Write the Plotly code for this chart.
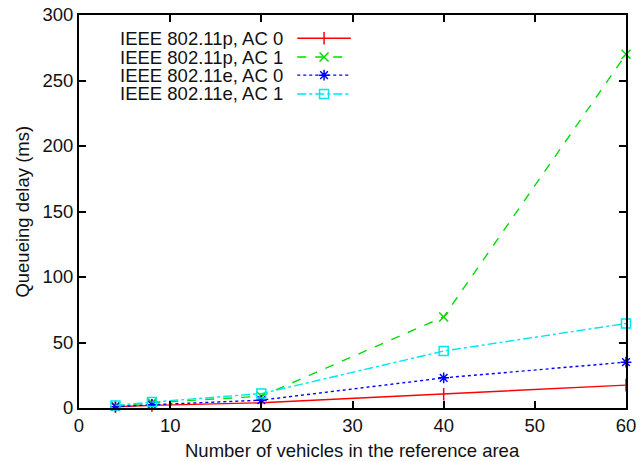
import plotly.graph_objects as go

vehicles = [4, 8, 20, 40, 60]
p_ac0 = [1.0, 2.0, 4.0, 10.5, 17.5]
p_ac1 = [1.5, 4.0, 9.0, 69.5, 270.0]
e_ac0 = [1.0, 2.5, 6.0, 23.0, 35.0]
e_ac1 = [2.0, 4.5, 11.0, 43.5, 64.5]
names = ["IEEE 802.11p, AC 0", "IEEE 802.11p, AC 1", "IEEE 802.11e, AC 0", "IEEE 802.11e, AC 1"]
series = [p_ac0, p_ac1, e_ac0, e_ac1]
colors = ["#ff0000", "#00dd00", "#0000ff", "#00e5ee"]
dashes = ["solid", "dash", "dot", "dashdot"]
symbols = ["line-ns", "x-thin", "asterisk", "square-open"]
x_ticks = [0, 10, 20, 30, 40, 50, 60]
y_ticks = [0, 50, 100, 150, 200, 250, 300]
x_title = "Number of vehicles in the reference area"
y_title = "Queueing delay (ms)"

FONT = "Liberation Sans, Arial, sans-serif"
FS = 18.5
fig = go.Figure()
for name, ys, c, d, s in zip(names, series, colors, dashes, symbols):
    fig.add_trace(go.Scatter(
        x=vehicles, y=ys, mode="lines+markers", name=name, showlegend=False,
        line=dict(color=c, width=1.4, dash=d),
        marker=dict(symbol=s, size=9, color=c, line=dict(color=c, width=1.5)),
        cliponaxis=False))

# manual legend (text left, sample right) on an overlay axis
leg_y = [0.941, 0.893, 0.847, 0.799]
for i, (name, c, d, s) in enumerate(zip(names, colors, dashes, symbols)):
    fig.add_trace(go.Scatter(
        x=[0.399, 0.497], y=[leg_y[i], leg_y[i]], mode="lines", xaxis="x2", yaxis="y2",
        line=dict(color=c, width=1.4, dash=d), showlegend=False, hoverinfo="skip"))
    fig.add_trace(go.Scatter(
        x=[0.448], y=[leg_y[i]], mode="markers", xaxis="x2", yaxis="y2",
        marker=dict(symbol=s, size=9, color=c, line=dict(color=c, width=1.5)),
        showlegend=False, hoverinfo="skip"))
    fig.add_annotation(x=0.377, y=leg_y[i], xref="x2 domain", yref="y2 domain",
                       text=name, showarrow=False, xanchor="right", yanchor="middle",
                       font=dict(family=FONT, size=FS, color="#111"))

# axis titles
fig.add_annotation(x=0.5, y=-0.107, xref="paper", yref="paper", text=x_title,
                   showarrow=False, xanchor="center", yanchor="middle",
                   font=dict(family=FONT, size=FS, color="#111"))
fig.add_annotation(x=-0.104, y=0.5, xref="paper", yref="paper", text=y_title,
                   showarrow=False, xanchor="center", yanchor="middle", textangle=-90,
                   font=dict(family=FONT, size=FS, color="#111"))

axis_common = dict(showgrid=False, zeroline=False, showline=True, linecolor="black",
                   linewidth=2, ticks="inside", ticklen=7, tickwidth=2, tickcolor="black",
                   mirror="ticks", automargin=False, ticklabeloverflow="allow",
                   tickfont=dict(family=FONT, size=FS, color="#111"))
fig.update_layout(
    width=644, height=461,
    margin=dict(l=79, r=18, t=15, b=53),
    paper_bgcolor="white", plot_bgcolor="white",
    xaxis=dict(range=[0, 60], tickvals=x_ticks, **axis_common),
    yaxis=dict(range=[0, 300], tickvals=y_ticks, **axis_common),
    xaxis2=dict(overlaying="x", range=[0, 1], visible=False),
    yaxis2=dict(overlaying="y", range=[0, 1], visible=False),
    showlegend=False,
)
fig.write_html("out.html", config={"displayModeBar": False},
               post_script="document.body.style.margin='0';")
